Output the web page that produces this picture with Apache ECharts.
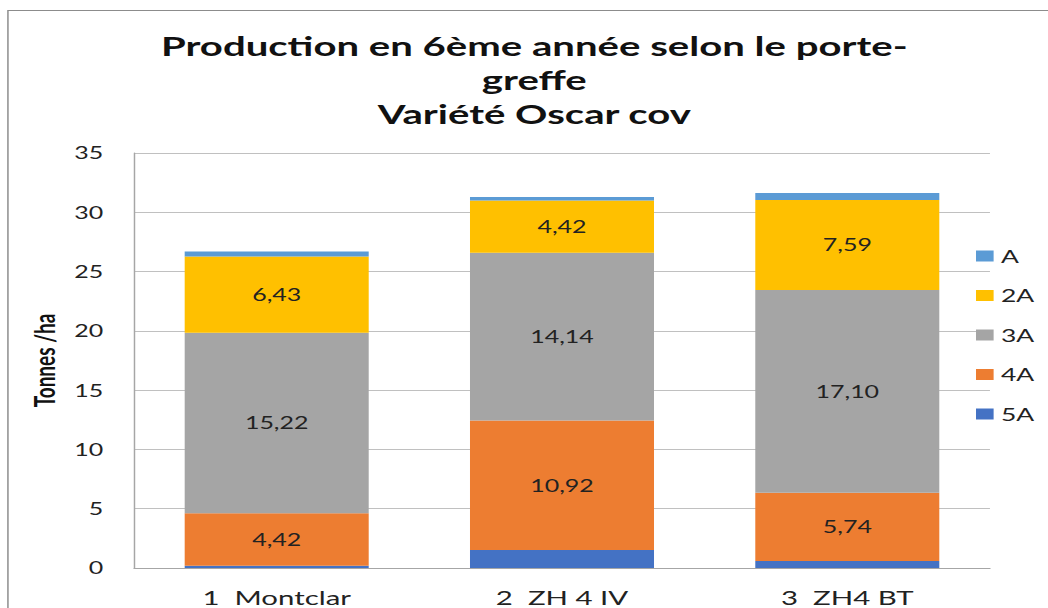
<!DOCTYPE html>
<html>
<head>
<meta charset="utf-8">
<script src="https://cdn.jsdelivr.net/npm/echarts@6/dist/echarts.min.js"></script>
<style>
  html, body { margin: 0; padding: 0; background: #fff; }
  #wrap { width: 1048px; height: 608px; overflow: hidden; position: relative; }
  #chart { width: 713px; height: 608px; transform: scaleX(1.46985); transform-origin: 0 0; }
</style>
</head>
<body>
<div id="wrap"><div id="chart"></div></div>
<script>
// ---- data ----
const titleLines = ['Production en 6ème année selon le porte-', 'greffe', 'Variété Oscar cov'];
const yAxisName = 'Tonnes /ha';
const categories = ['1  Montclar', '2  ZH 4 IV', '3  ZH4 BT'];
const legendOrder = ['A', '2A', '3A', '4A', '5A'];
const v5A = [0.2, 1.52, 0.6];
const v4A = [4.42, 10.92, 5.74];
const v3A = [15.22, 14.14, 17.10];
const v2A = [6.43, 4.42, 7.59];
const vA  = [0.42, 0.28, 0.6];
const yMin = 0, yMax = 35, yStep = 5;

const colors = { 'A': '#5B9BD5', '2A': '#FFC000', '3A': '#A5A5A5', '4A': '#ED7D31', '5A': '#4472C4' };
const FONT = 'Lato, "Open Sans", sans-serif';

function fmt(p) { return p.value.toFixed(2).replace('.', ','); }

function mk(name, data, showLabel) {
  return {
    name: name,
    type: 'bar',
    stack: 'total',
    barWidth: '64.5%',
    data: data,
    itemStyle: { color: colors[name] },
    label: {
      show: showLabel,
      position: 'inside',
      formatter: fmt,
      color: '#222',
      fontFamily: FONT,
      fontSize: 17
    },
    emphasis: { disabled: true }
  };
}

const chart = echarts.init(document.getElementById('chart'), null, { renderer: 'svg' });
chart.setOption({
  animation: false,
  backgroundColor: '#fff',
  title: {
    text: titleLines.join('\n'),
    left: 363.5,
    top: 28,
    padding: 0,
    textAlign: 'center',
    textStyle: {
      fontFamily: FONT,
      fontWeight: 'bold',
      fontSize: 27.3,
      lineHeight: 34,
      color: '#111'
    }
  },
  legend: {
    data: legendOrder,
    orient: 'vertical',
    left: 659,
    top: 242,
    itemGap: 21.5,
    itemWidth: 12,
    itemHeight: 11,
    icon: 'rect',
    textStyle: { fontFamily: FONT, fontSize: 18, color: '#222' }
  },
  grid: { left: 91.2, right: 39.5, top: 153, bottom: 40, containLabel: false },
  xAxis: {
    type: 'category',
    data: categories,
    axisLine: { show: true, lineStyle: { color: '#a6a6a6', width: 1 } },
    axisTick: { show: false },
    axisLabel: { margin: 19, fontFamily: FONT, fontSize: 20, color: '#222' }
  },
  yAxis: {
    type: 'value',
    min: yMin, max: yMax, interval: yStep,
    name: yAxisName,
    nameLocation: 'middle',
    nameGap: 52,
    nameTextStyle: { fontFamily: FONT, fontSize: 19, fontWeight: 'bold', color: '#111' },
    axisLine: { show: true, lineStyle: { color: '#a6a6a6', width: 1 } },
    axisTick: { show: false },
    axisLabel: { margin: 21, fontFamily: FONT, fontSize: 17, color: '#222' },
    splitLine: { show: true, lineStyle: { color: '#c0c0c0', width: 1 } }
  },
  graphic: [{
    type: 'rect',
    silent: true,
    shape: { x: 5.4, y: 10.5, width: 2000, height: 2000 },
    style: { fill: 'none', stroke: '#8c8c8c', lineWidth: 1 }
  }],
  series: [
    mk('5A', v5A, false),
    mk('4A', v4A, true),
    mk('3A', v3A, true),
    mk('2A', v2A, true),
    mk('A', vA, false)
  ]
});
</script>
</body>
</html>
